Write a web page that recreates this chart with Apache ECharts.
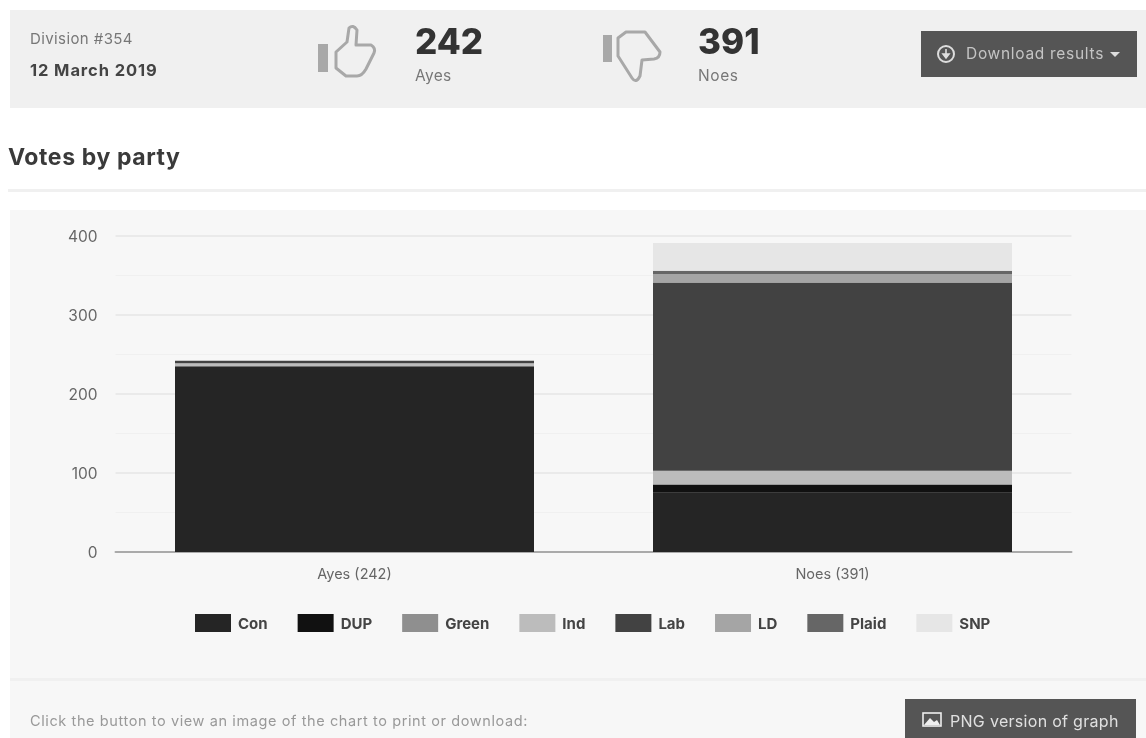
<!DOCTYPE html>
<html><head><meta charset="utf-8">
<style>
html,body{margin:0;padding:0;width:1146px;height:738px;overflow:hidden;background:#fff;font-family:Inter,Lato,sans-serif;color:#333}
#wrap{position:relative;width:1146px;height:738px;overflow:hidden;filter:blur(0.6px)}
.abs{position:absolute;white-space:nowrap}
#head{left:10px;top:10px;width:1136px;height:98px;background:#f0f0f0}
#panel{left:10px;top:210px;width:1136px;height:528px;background:#f7f7f7}
#rule1{left:8px;top:189px;width:1138px;height:3px;background:#f0f0f0}
#rule2{left:10px;top:678px;width:1136px;height:3px;background:#f0f0f0}
.btn{background:#555;color:#c4c4c4}
#chart{left:0;top:0;width:1146px;height:738px}
</style></head><body>
<div id="wrap">
<div class="abs" id="head"></div>
<div class="abs" id="panel"></div>
<div class="abs" id="rule1"></div>
<div class="abs" id="rule2"></div>
<div class="abs" style="left:30px;top:29px;font-size:15px;color:#777;letter-spacing:.4px">Division #354</div>
<div class="abs" style="left:30px;top:60px;font-size:16.5px;font-weight:700;color:#444;letter-spacing:.9px">12 March 2019</div>
<svg class="abs" style="left:316px;top:24px" width="64" height="60" viewBox="0 0 64 60" fill="none" stroke="#a8a8a8" stroke-width="3" stroke-linejoin="round">
<rect x="2" y="20" width="10" height="28" fill="#a8a8a8" stroke="none"/>
<path d="M20 28 L31 18 L33 4 Q37 0 41 6 L40 21 L55 21 Q60 24 58 29 L50 45 Q46 52 41 52 L30 52 L20 44 Z"/></svg>
<div class="abs" style="left:415px;top:19px;font-size:35px;font-weight:800;color:#333;line-height:44px">242</div>
<div class="abs" style="left:415px;top:66px;font-size:15.5px;color:#777;letter-spacing:.3px">Ayes</div>
<svg class="abs" style="left:600px;top:26px" width="64" height="60" viewBox="0 0 64 60" fill="none" stroke="#a8a8a8" stroke-width="3" stroke-linejoin="round">
<rect x="3" y="9" width="9" height="27" fill="#a8a8a8" stroke="none"/>
<path d="M18 12 L26 6 L45 6 L60 26 Q60 32 54 33 L42 34 L40 50 Q36 58 32 52 L18 30 Z"/></svg>
<div class="abs" style="left:698px;top:19px;font-size:35px;font-weight:800;color:#333;line-height:44px">391</div>
<div class="abs" style="left:698px;top:66px;font-size:15.5px;color:#777;letter-spacing:.6px">Noes</div>
<div class="abs btn" style="left:921px;top:31px;width:216px;height:46px">
<svg class="abs" style="left:15px;top:13px" width="20" height="20" viewBox="0 0 20 20"><circle cx="10" cy="10" r="8" fill="none" stroke="#ddd" stroke-width="2"/><path d="M10 5 V11 M7 10 L10 14 L13 10 Z" stroke="#ddd" stroke-width="1.6" fill="#ddd"/></svg>
<span class="abs" style="left:45px;top:13px;font-size:15.5px;letter-spacing:.7px">Download results</span>
<svg class="abs" style="left:189px;top:21px" width="10" height="6" viewBox="0 0 10 6"><path d="M0 0 H10 L5 5 Z" fill="#ddd"/></svg></div>
<div class="abs" style="left:8px;top:143px;font-size:23px;font-weight:700;color:#3a3a3a;letter-spacing:.6px">Votes by party</div>
<div id="chart" class="abs"></div>
<div class="abs" style="left:30px;top:712px;font-size:14.5px;color:#999;letter-spacing:.6px">Click the button to view an image of the chart to print or download:</div>
<div class="abs btn" style="left:905px;top:699px;width:231px;height:39px">
<svg class="abs" style="left:17px;top:13px" width="20" height="15" viewBox="0 0 20 15"><rect x="1" y="1" width="18" height="13" fill="none" stroke="#eee" stroke-width="1.6"/><path d="M2 13 L8 6 L12 10 L15 8 L18 13 Z" fill="#eee"/></svg>
<span class="abs" style="left:45px;top:12px;font-size:16px;letter-spacing:.3px;color:#e0e0e0">PNG version of graph</span></div>
</div>
<script src="https://cdn.jsdelivr.net/npm/echarts@6/dist/echarts.min.js"></script>
<script>
const categories = ['Ayes (242)', 'Noes (391)'];
const parties = ['Con', 'DUP', 'Green', 'Ind', 'Lab', 'LD', 'Plaid', 'SNP'];
const colors = ['#252525', '#111111', '#8f8f8f', '#bcbcbc', '#424242', '#a5a5a5', '#666666', '#e6e6e6'];
const con = [235, 75];
const dup = [0, 10];
const green = [0, 1];
const ind = [4, 17];
const lab = [3, 238];
const ld = [0, 11];
const plaid = [0, 4];
const snp = [0, 35];
const values = [con, dup, green, ind, lab, ld, plaid, snp];
const yTicks = {min: 0, max: 400, interval: 100};

const chart = echarts.init(document.getElementById('chart'), null, {renderer: 'svg'});
chart.setOption({
  animation: false,
  backgroundColor: 'transparent',
  textStyle: {fontFamily: 'Inter, Lato, sans-serif'},
  grid: {left: 115.5, right: 74.5, top: 236, bottom: 186},
  legend: {
    data: parties, left: 190, top: 609, itemWidth: 36, itemHeight: 18, itemGap: 30,
    icon: 'rect', selectedMode: false,
    textStyle: {fontSize: 15, fontWeight: 700, color: '#444', padding: [0, 0, 0, 2]}
  },
  xAxis: {
    type: 'category', data: categories,
    axisTick: {show: false},
    axisLine: {lineStyle: {color: '#aaaaaa', width: 2}},
    axisLabel: {color: '#666', fontSize: 14.5, margin: 14}
  },
  yAxis: {
    type: 'value', min: yTicks.min, max: yTicks.max, interval: yTicks.interval,
    axisLine: {show: false}, axisTick: {show: false},
    axisLabel: {color: '#666', fontSize: 15.5, margin: 18},
    splitLine: {lineStyle: {color: '#e6e6e6', width: 1.5}},
    minorTick: {show: false, splitNumber: 2},
    minorSplitLine: {show: true, lineStyle: {color: '#f0f0f0', width: 1}}
  },
  series: parties.map((name, i) => ({
    name, type: 'bar', stack: 'votes', data: values[i], barWidth: 359,
    itemStyle: {color: colors[i]}
  }))
});
</script>
</body></html>
